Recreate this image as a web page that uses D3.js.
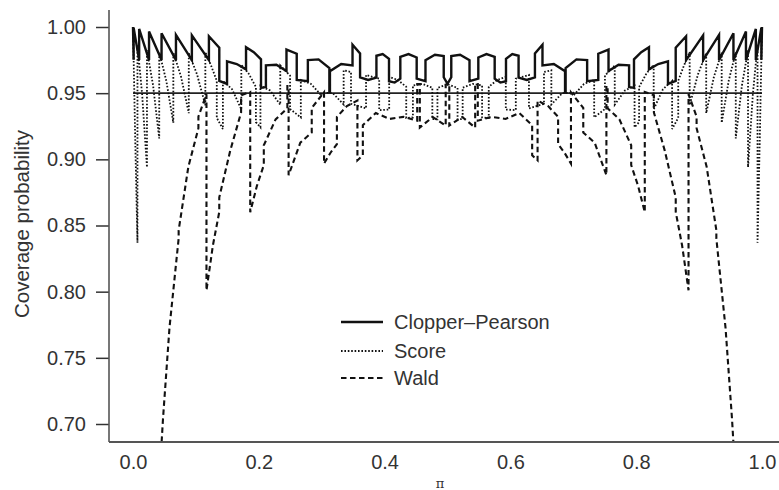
<!DOCTYPE html>
<html><head><meta charset="utf-8">
<script src="https://cdn.jsdelivr.net/npm/d3@7"></script>
<style>body{margin:0;background:#fff}svg{display:block}</style>
</head><body>
<svg id="chart" width="779" height="490"></svg>
<script>
// ---- data: [pi, coverage probability] ----
const seriesNames = ["Clopper\u2013Pearson", "Score", "Wald"];
const xTicks = [0.0, 0.2, 0.4, 0.6, 0.8, 1.0];
const yTicks = [0.70, 0.75, 0.80, 0.85, 0.90, 0.95, 1.00];
const nominal = 0.95;

const clopperPearson = [
[0,1.0],[.001,.9753],[.001,.9994],[.0098,.975],[.0098,.9985],[.0255,.975],[.0255,.9966],[.0454,.975],[.0454,.9953],[.0683,.975],[.0683,.994],[.0936,.975],[.0936,.9937],[.1207,.975],[.1207,.993],[.1372,.9843],[.1372,.9593],[.1495,.957],[.1495,.974],[.165,.972],[.1797,.968],[.1797,.9847],[.192,.981],[.2035,.9756],[.2035,.954],[.2113,.9546],[.2113,.971],[.228,.9715],[.244,.9667],[.244,.9829],[.2603,.9798],[.2603,.960],[.278,.959],[.278,.975],[.295,.9755],[.3122,.969],[.3122,.9506],[.3131,.9506],[.3131,.9666],[.331,.972],[.349,.971],[.349,.9866],[.361,.980],[.361,.962],[.374,.960],[.387,.9618],[.387,.9783],[.397,.9795],[.407,.976],[.407,.959],[.416,.958],[.425,.961],[.425,.9775],[.438,.9795],[.451,.977],[.451,.961],[.465,.959],[.465,.975],[.48,.979],[.494,.978],[.494,.962],[.5,.957],
[.506,.962],[.506,.978],[.52,.979],[.535,.975],[.535,.959],[.549,.961],[.549,.977],[.562,.9795],[.575,.9775],[.575,.961],[.584,.958],[.593,.959],[.593,.976],[.603,.9795],[.613,.9783],[.613,.9618],[.626,.960],[.639,.962],[.639,.980],[.651,.9866],[.651,.971],[.669,.972],[.6869,.9666],[.6869,.9506],[.6878,.9506],[.6878,.969],[.705,.9755],[.722,.975],[.722,.959],[.7397,.960],[.7397,.9798],[.756,.9829],[.756,.9667],[.772,.9715],[.7887,.971],[.7887,.9546],[.7965,.954],[.7965,.9756],[.808,.981],[.8203,.9847],[.8203,.968],[.835,.972],[.8505,.974],[.8505,.957],[.8628,.9593],[.8628,.9843],[.8793,.993],[.8793,.975],[.9064,.9937],[.9064,.975],[.9317,.994],[.9317,.975],[.9546,.9953],[.9546,.975],[.9745,.9966],[.9745,.975],[.9902,.9985],[.9902,.975],[.999,.9994],[.999,.9753],[1,1.0]
];

const score = [
[0,1.0],[.0035,.916],[.0071,.837],[.0071,.9865],[.0146,.9487],[.0222,.894],[.0222,.9824],[.032,.9556],[.0417,.9158],[.0417,.9811],[.053,.9592],[.0641,.9276],[.0641,.9808],[.0764,.9624],[.0887,.9349],[.0887,.9804],[.1018,.9642],[.115,.9409],[.115,.9811],[.124,.971],[.1332,.9593],[.1332,.9313],[.1429,.9229],[.1429,.9593],[.1575,.953],[.1722,.9378],[.1722,.9714],[.1838,.9648],[.1954,.9546],[.1954,.9281],[.2026,.9242],[.2026,.9556],[.218,.952],[.2341,.9413],[.2341,.9709],[.2497,.9633],[.2497,.938],[.2668,.9317],[.2668,.9599],[.283,.957],[.2996,.9483],[.3004,.9504],[.3177,.950],[.3349,.9414],[.3349,.9673],[.3466,.966],[.3466,.942],[.3705,.9385],[.3705,.9637],[.3914,.961],[.3914,.9372],[.4073,.9376],[.4073,.9623],[.421,.960],[.4344,.9548],[.4344,.9312],[.445,.9317],[.445,.9558],[.46,.957],[.4759,.9541],[.4759,.9305],[.484,.9302],[.484,.954],[.5,.9567],
[.516,.954],[.516,.9302],[.5241,.9305],[.5241,.9541],[.54,.957],[.555,.9558],[.555,.9317],[.5656,.9312],[.5656,.9548],[.579,.960],[.5927,.9623],[.5927,.9376],[.6086,.9372],[.6086,.961],[.6295,.9637],[.6295,.9385],[.6534,.942],[.6534,.966],[.6651,.9673],[.6651,.9414],[.6823,.950],[.6996,.9504],[.7004,.9483],[.717,.957],[.7332,.9599],[.7332,.9317],[.7503,.938],[.7503,.9633],[.7659,.9709],[.7659,.9413],[.782,.952],[.7974,.9556],[.7974,.9242],[.8046,.9281],[.8046,.9546],[.8162,.9648],[.8278,.9714],[.8278,.9378],[.8425,.953],[.8571,.9593],[.8571,.9229],[.8668,.9313],[.8668,.9593],[.876,.971],[.885,.9811],[.885,.9409],[.8982,.9642],[.9113,.9804],[.9113,.9349],[.9236,.9624],[.9359,.9808],[.9359,.9276],[.947,.9592],[.9583,.9811],[.9583,.9158],[.968,.9556],[.9778,.9824],[.9778,.894],[.9854,.9487],[.9929,.9865],[.9929,.837],[.9965,.916],[1,1.0]
];

const wald = [
[0,0],[.008,.1817],[.01629,.3361],[.01629,.3367],[.03,.5323],[.0432,.6647],[.0432,.668],[.0477,.704],[.058,.7728],[.07258,.8402],[.07258,.8464],[.088,.8944],[.10399,.9235],[.10399,.9323],[.1168,.9492],[.1168,.801],[.127,.8349],[.13714,.8602],[.13714,.8712],[.1545,.9064],[.17184,.9354],[.17184,.9484],[.18635,.9509],[.18635,.8601],[.197,.880],[.20796,.8956],[.20796,.9106],[.2267,.9302],[.24541,.9386],[.24541,.9554],[.24738,.9554],[.24738,.888],[.266,.9126],[.28416,.9203],[.28416,.9389],[.30371,.9506],[.30371,.8968],[.314,.905],[.32416,.9115],[.32416,.9321],[.34,.9402],[.3568,.9444],[.3568,.8992],[.36541,.9031],[.36541,.9258],[.386,.935],[.4077,.9305],[.43,.9321],[.45184,.9292],[.45184,.9568],[.45601,.9568],[.45601,.924],[.4765,.932],[.49714,.9255],[.49714,.9565],[.5,.9567],
[.50286,.9565],[.50286,.9255],[.5235,.932],[.54399,.924],[.54399,.9568],[.54816,.9568],[.54816,.9292],[.57,.9321],[.5923,.9305],[.614,.935],[.63459,.9258],[.63459,.9031],[.6432,.8992],[.6432,.9444],[.66,.9402],[.67584,.9321],[.67584,.9115],[.686,.905],[.69629,.8968],[.69629,.9506],[.71584,.9389],[.71584,.9203],[.734,.9126],[.75262,.888],[.75262,.9554],[.75459,.9554],[.75459,.9386],[.7733,.9302],[.79204,.9106],[.79204,.8956],[.803,.880],[.81365,.8601],[.81365,.9509],[.82816,.9484],[.82816,.9354],[.8455,.9064],[.86286,.8712],[.86286,.8602],[.873,.8349],[.8832,.801],[.8832,.9492],[.89601,.9323],[.89601,.9235],[.912,.8944],[.92742,.8464],[.92742,.8402],[.942,.7728],[.9523,.704],[.9568,.668],[.9568,.6647],[.97,.5323],[.98371,.3367],[.98371,.3361],[.992,.1817],[1,0]
];

// ---- layout ----
const svg = d3.select("#chart");
const FONT = "'Liberation Sans', Arial, Helvetica, sans-serif";
const axisX = 109, axisY = 442, topY = 10;
const x = d3.scaleLinear().domain([0, 1]).range([133, 762]);
const y = d3.scaleLinear().domain([0.7, 1.0]).range([424, 27]);

svg.append("defs").append("clipPath").attr("id", "plotClip")
  .append("rect").attr("x", axisX + 1).attr("y", topY).attr("width", 779 - axisX).attr("height", axisY - topY - 1);

// axes
const ink = "#333";
const yAxis = svg.append("g").attr("transform", `translate(${axisX},0)`)
  .call(d3.axisLeft(y).tickValues(yTicks).tickSize(13).tickPadding(10).tickFormat(d3.format(".2f")));
yAxis.select(".domain").remove();
yAxis.selectAll("line").attr("stroke", ink).attr("stroke-width", 1.5);
yAxis.selectAll("text").attr("font-family", FONT).attr("font-size", 20).attr("fill", ink);

const xAxis = svg.append("g").attr("transform", `translate(0,${axisY})`)
  .call(d3.axisBottom(x).tickValues(xTicks).tickSize(0).tickPadding(13).tickFormat(d3.format(".1f")));
xAxis.select(".domain").remove();
xAxis.selectAll("text").attr("font-family", FONT).attr("font-size", 20).attr("fill", ink);

svg.append("line").attr("x1", axisX).attr("x2", axisX).attr("y1", topY).attr("y2", axisY)
  .attr("stroke", "#555").attr("stroke-width", 1.6);
svg.append("line").attr("x1", axisX).attr("x2", 779).attr("y1", axisY).attr("y2", axisY)
  .attr("stroke", "#555").attr("stroke-width", 1.8);

svg.append("text").attr("transform", `translate(29,${224}) rotate(-90)`)
  .attr("text-anchor", "middle").attr("font-family", FONT).attr("font-size", 20.5).attr("fill", ink)
  .text("Coverage probability");
svg.append("text").attr("x", 440).attr("y", 488).attr("text-anchor", "middle")
  .attr("font-family", "'DejaVu Serif', serif").attr("font-size", 13).attr("fill", ink).text("\u03c0");

// lines
const plot = svg.append("g").attr("clip-path", "url(#plotClip)");
const line = d3.line().x(d => x(d[0])).y(d => y(d[1]));
const styles = [
  { data: clopperPearson, width: 2.4, dash: null },
  { data: score, width: 1.8, dash: "1.6,1.8" },
  { data: wald, width: 2.1, dash: "5.5,3.5" }
];
plot.append("line").attr("x1", x(0)).attr("x2", x(1)).attr("y1", y(nominal)).attr("y2", y(nominal))
  .attr("stroke", "#222").attr("stroke-width", 1.7);
styles.forEach(s => {
  plot.append("path").datum(s.data).attr("d", line).attr("fill", "none")
    .attr("stroke", "#111").attr("stroke-width", s.width)
    .attr("stroke-dasharray", s.dash).attr("stroke-linejoin", "miter");
});

// legend
const legY = [322, 351, 378];
const leg = svg.append("g");
seriesNames.forEach((name, i) => {
  leg.append("line").attr("x1", 341).attr("x2", 383).attr("y1", legY[i]).attr("y2", legY[i])
    .attr("stroke", "#111").attr("stroke-width", styles[i].width).attr("stroke-dasharray", styles[i].dash);
  leg.append("text").attr("x", 394).attr("y", legY[i]).attr("dy", "0.35em")
    .attr("font-family", FONT).attr("font-size", 20).attr("fill", ink).text(name);
});
</script>
</body></html>
